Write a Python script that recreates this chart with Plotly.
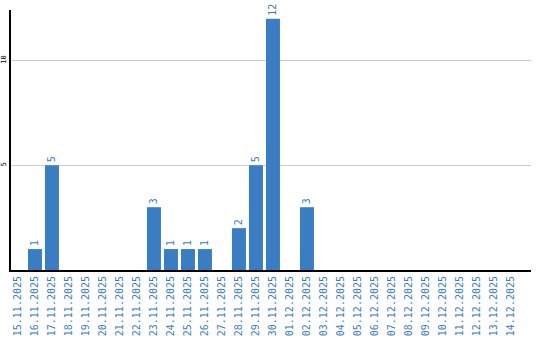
import plotly.graph_objects as go

dates = ["15.11.2025","16.11.2025","17.11.2025","18.11.2025","19.11.2025","20.11.2025",
         "21.11.2025","22.11.2025","23.11.2025","24.11.2025","25.11.2025","26.11.2025",
         "27.11.2025","28.11.2025","29.11.2025","30.11.2025","01.12.2025","02.12.2025",
         "03.12.2025","04.12.2025","05.12.2025","06.12.2025","07.12.2025","08.12.2025",
         "09.12.2025","10.12.2025","11.12.2025","12.12.2025","13.12.2025","14.12.2025"]
counts = [0,1,5,0,0,0,0,0,3,1,1,1,0,2,5,12,0,3,0,0,0,0,0,0,0,0,0,0,0,0]
labels = [str(v) if v else "" for v in counts]

blue = "#3b7dc3"
mono = "DejaVu Sans Mono"

fig = go.Figure(go.Bar(
    x=dates, y=counts, text=labels, textposition="outside", textangle=-90,
    textfont=dict(family=mono, size=10, color=blue),
    marker=dict(color=blue, line=dict(width=0)), cliponaxis=False,
))
fig.update_layout(
    width=540, height=340, margin=dict(l=11, r=9, t=10, b=70),
    paper_bgcolor="white", plot_bgcolor="white", bargap=0.176, showlegend=False,
    xaxis=dict(type="category", tickangle=-90, tickfont=dict(family=mono, size=10, color=blue),
               range=[-0.41, 30.18],
               showline=True, linecolor="black", linewidth=2, ticks="", showgrid=False,
               automargin=False),
    yaxis=dict(range=[0, 12.42], tickvals=[5, 10], tickangle=-90,
               tickfont=dict(family=mono, size=7, color="black"),
               showline=True, linecolor="black", linewidth=2, gridcolor="#cccccc",
               zeroline=False, ticks="", automargin=False),
)
fig.write_html("out.html")
